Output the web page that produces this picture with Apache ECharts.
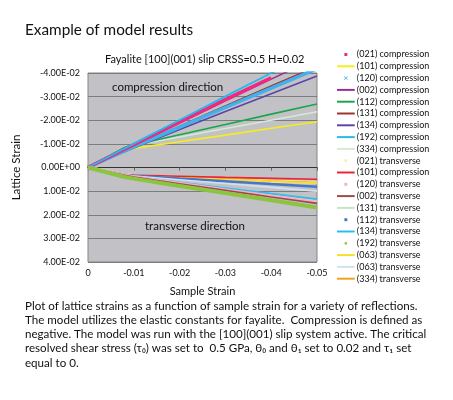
<!DOCTYPE html>
<html><head><meta charset="utf-8">
<script src="https://cdn.jsdelivr.net/npm/echarts@6/dist/echarts.min.js"></script>
<style>html,body{margin:0;padding:0;background:#fff}#c{width:453px;height:400px}</style>
</head><body><div id="c"></div>
<script>
// ---- data ----
const sampleStrain = [0, -0.008, -0.01, -0.02, -0.03, -0.04, -0.05];
const seriesNames = [
  '(021) compression', '(101) compression', '(120) compression', '(002) compression',
  '(112) compression', '(131) compression', '(134) compression', '(192) compression',
  '(334) compression', '(021) transverse', '(101) compression\u200b', '(120) transverse',
  '(002) transverse', '(131) transverse', '(112) transverse', '(134) transverse',
  '(192) transverse', '(063) transverse', '(063) transverse\u200b', '(334) transverse'
];
const c021 = [0, -0.0078, -0.0097, -0.0192, -0.0287, -0.0380, null];
const c101 = [0, -0.0078, -0.0081, -0.0109, -0.0137, -0.0166, -0.0194];
const c120 = [0, -0.0070, -0.0087, -0.0171, -0.0254, -0.0336, -0.0418];
const c002 = [0, -0.0077, -0.0096, -0.0189, -0.0282, -0.0374, -0.0465];
const c112 = [0, -0.0086, -0.0095, -0.0139, -0.0182, -0.0226, -0.0269];
const c131 = [0, -0.0072, -0.0089, -0.0175, -0.0260, -0.0345, -0.0428];
const c134 = [0, -0.0067, -0.0082, -0.0161, -0.0237, -0.0312, -0.0387];
const c192 = [0, -0.0081, -0.0101, -0.0201, -0.0301, -0.0400, -0.0498];
const c334 = [0, -0.0088, -0.0094, -0.0129, -0.0165, -0.0200, -0.0236];
const t021 = [0, 0.0031, 0.0034, 0.0042, 0.0050, 0.0057, 0.0064];
const c101b = [0, 0.0030, 0.0032, 0.0037, 0.0042, 0.0046, 0.0050];
const t120 = [0, 0.0033, 0.0040, 0.0068, 0.0095, 0.0122, 0.0148];
const t002 = [0, 0.0033, 0.0040, 0.0069, 0.0097, 0.0125, 0.0152];
const t131 = [0, 0.0033, 0.0040, 0.0067, 0.0093, 0.0118, 0.0143];
const t112 = [0, 0.0031, 0.0035, 0.0047, 0.0058, 0.0070, 0.0081];
const t134 = [0, 0.0032, 0.0039, 0.0063, 0.0087, 0.0111, 0.0134];
const t192 = [0, 0.0040, 0.0047, 0.0078, 0.0108, 0.0139, 0.0169];
const t063 = [0, 0.0031, 0.0034, 0.0042, 0.0050, 0.0058, 0.0066];
const t063b = [0, 0.0032, 0.0036, 0.0052, 0.0068, 0.0084, 0.0100];
const t334 = [0, 0.0031, 0.0034, 0.0042, 0.0049, 0.0057, 0.0064];
const yTicks = [-0.04, -0.03, -0.02, -0.01, 0, 0.01, 0.02, 0.03, 0.04];
const xTicks = [0, -0.01, -0.02, -0.03, -0.04, -0.05];

// ---- styling ----
const allValues = [c021,c101,c120,c002,c112,c131,c134,c192,c334,t021,c101b,t120,t002,t131,t112,t134,t192,t063,t063b,t334];
const colors = ['#ee2a80','#f6ee1a','#3fb2ee','#9a2d95','#1aa54a','#a1302f','#5e43a3','#25b9f0','#d4ead4','#f8f3a2',
                '#ee2236','#f2b2c6','#a0474b','#c6e4c6','#4876c6','#2abdf0','#8bc53f','#f6df2a','#cfe2f3','#f0a021'];
const widths = [3.5,1.6,3.5,1.6,1.6,1.6,1.6,1.8,1.6,3,1.6,3.5,1.6,1.6,2.5,1.8,4,1.6,1.6,1.6];
const kinds = ['sq','line','x','line','line','line','line','line','line','sq','line','sq','line','line','sq','line','dot','line','line','line'];
const icons = {
  line: 'path://M0,0M18,12M0,5h18v2h-18z',
  sq: 'path://M0,0M18,12M7.5,4.5h3v3h-3z',
  dot: 'path://M0,0M18,12M7.8,4.8h2.4v2.4h-2.4z',
  x: 'path://M0,0M18,12M7,4.5L7.5,4L9,5.5L10.5,4L11,4.5L9.5,6L11,7.5L10.5,8L9,6.5L7.5,8L7,7.5L8.5,6Z'
};
const FONT = 'Lato';
const fmtY = v => { let s = Number(v).toExponential(2).toUpperCase(); return s.replace(/E([+-])(\d)$/, 'E$10$2'); };
const drawOrder = [8,1,4,6,5,3,2,0,7, 9,19,17,10,14,18,13,15,11,12,16];

const series = drawOrder.map(i => ({
  name: seriesNames[i], type: 'line', symbol: 'none', silent: true,
  color: colors[i],
  lineStyle: { color: colors[i], width: widths[i] },
  data: sampleStrain.map((x, k) => [x, allValues[i][k]]),
  z: 2
}));

const chart = echarts.init(document.getElementById('c'), null, { renderer: 'canvas' });
chart.setOption({
  animation: false,
  backgroundColor: '#ffffff',
  color: colors,
  textStyle: { fontFamily: FONT },
  grid: { left: 88, top: 73, width: 229, height: 189, show: true, backgroundColor: '#c2c2c6', borderColor: '#858585', borderWidth: 1 },
  xAxis: [
    { type: 'value', inverse: true, min: -0.05, max: 0, interval: 0.01, position: 'bottom',
      axisLine: { show: false, onZero: false }, axisTick: { show: false }, splitLine: { show: false },
      axisLabel: { color: '#111', fontSize: 9, fontFamily: FONT, margin: 7, formatter: v => v === 0 ? '0' : v.toFixed(2) },
      name: 'Sample Strain', nameLocation: 'middle', nameGap: 24, nameTextStyle: { fontSize: 11, color: '#111', fontFamily: FONT } },
    { type: 'value', inverse: true, min: -0.05, max: 0, interval: 0.01,
      axisLine: { show: true, onZero: true, lineStyle: { color: '#333', width: 1.2 } },
      axisTick: { show: true, inside: true, length: 3, lineStyle: { color: '#666' } },
      axisLabel: { show: false }, splitLine: { show: false } }
  ],
  yAxis: { type: 'value', inverse: true, min: -0.04, max: 0.04, interval: 0.01,
    axisLine: { show: false }, axisTick: { show: false },
    splitLine: { show: true, lineStyle: { color: '#7c7c7c', width: 1 } },
    axisLabel: { color: '#111', fontSize: 9, fontFamily: FONT, margin: 8, formatter: fmtY },
    name: 'Lattice Strain', nameLocation: 'middle', nameGap: 66, nameRotate: 90,
    nameTextStyle: { fontSize: 11.5, color: '#111', fontFamily: FONT } },
  legend: {
    orient: 'vertical', left: 337, top: 48.6, itemWidth: 18, itemHeight: 11.8, itemGap: 0,
    selectedMode: false, padding: 0,
    textStyle: { fontSize: 9, color: '#111', fontFamily: FONT, lineHeight: 11.8, padding: [0,0,0,-3] },
    data: seriesNames.map((n, i) => ({ name: n, icon: icons[kinds[i]], itemStyle: { color: colors[i] } }))
  },
  graphic: [
    { type: 'text', left: 25, top: 23, style: { text: 'Example of model results', font: '15.3px Lato', fill: '#111' } },
    { type: 'text', left: 105, top: 54, style: { text: 'Fayalite [100](001) slip CRSS=0.5 H=0.02', font: '11px Lato', fill: '#111' } },
    { type: 'text', left: 112, top: 81, z: 10, style: { text: 'compression direction', font: '11.5px Lato', fill: '#111' } },
    { type: 'text', left: 145, top: 220, z: 10, style: { text: 'transverse direction', font: '11.5px Lato', fill: '#111' } },
    { type: 'text', left: 25, top: 299, style: {
      text: 'Plot of lattice strains as a function of sample strain for a variety of reflections.\nThe model utilizes the elastic constants for fayalite.  Compression is defined as\nnegative. The model was run with the [100](001) slip system active. The critical\nresolved shear stress (\u03c4\u2080) was set to  0.5 GPa, \u03b8\u2080 and \u03b8\u2081 set to 0.02 and \u03c4\u2081 set\nequal to 0.',
      font: '11.6px Lato', lineHeight: 14.2, fill: '#111' } }
  ],
  series: series
});
</script></body></html>
